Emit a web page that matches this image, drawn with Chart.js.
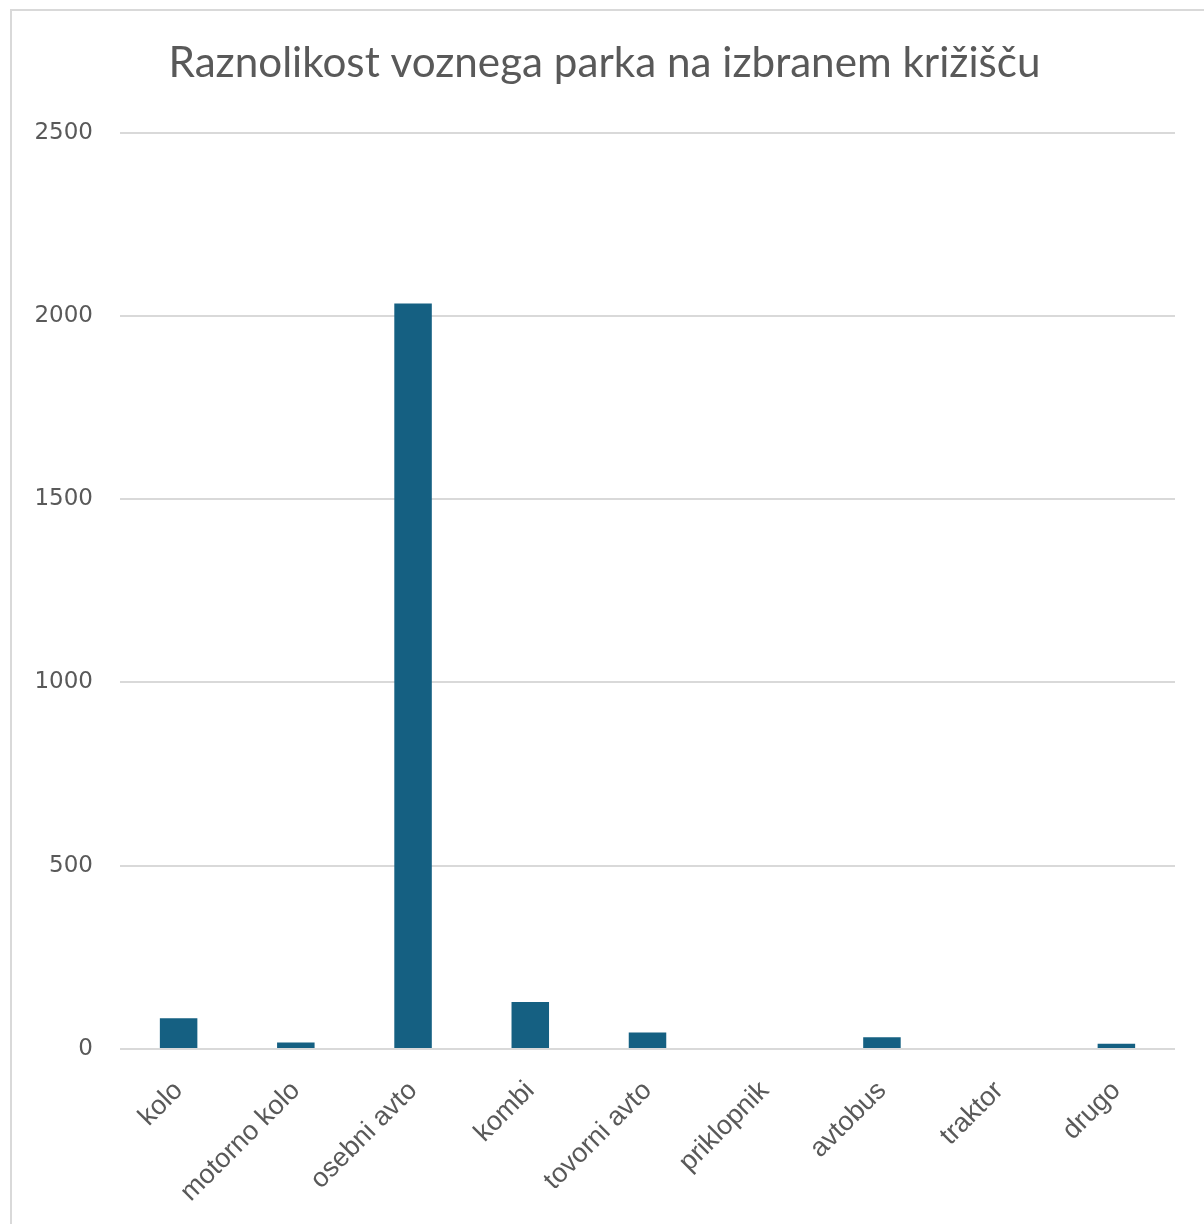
<!DOCTYPE html>
<html>
<head>
<meta charset="utf-8">
<script src="https://cdn.jsdelivr.net/npm/chart.js@4.4.1/dist/chart.umd.min.js"></script>
<style>
  html, body { margin: 0; padding: 0; background: #fff; }
  .frame {
    position: absolute; left: 10px; top: 9px;
    width: 1220px; height: 1240px;
    border: 2px solid #d9d9d9; box-sizing: border-box;
  }
  .wrap { position: absolute; left: 0; top: 0; width: 1204px; height: 1224px; }
</style>
</head>
<body>
<div class="frame"></div>
<div class="wrap">
  <canvas id="bar-chart" width="1204" height="1224"></canvas>
</div>
<script>
  // categories and counts
  const categories = ["kolo", "motorno kolo", "osebni avto", "kombi", "tovorni avto", "priklopnik", "avtobus", "traktor", "drugo"];
  const counts = [84, 18, 2034, 128, 45, 0, 32, 0, 14];
  const yTicks = [0, 500, 1000, 1500, 2000, 2500];

  const textColor = "#595959";
  const gridColor = "#d9d9d9";

  let config = {
    type: "bar",
    data: {
      labels: categories,
      datasets: [
        {
          label: "Število",
          backgroundColor: "#156082",
          borderWidth: 0,
          data: counts,
          barPercentage: 0.32,
          categoryPercentage: 1,
        },
      ],
    },
    options: {
      responsive: false,
      animation: false,
      layout: { padding: { left: 34, right: 29, top: 38, bottom: 0 } },
      plugins: {
        legend: { display: false },
        tooltip: { enabled: false },
        title: {
          display: true,
          text: "Raznolikost voznega parka na izbranem križišču",
          color: textColor,
          font: { family: "Lato", size: 42.2, weight: "normal" },
          padding: { top: 0, bottom: 44 },
        },
      },
      scales: {
        x: {
          grid: { display: false, drawTicks: false },
          border: { display: false },
          ticks: {
            color: textColor,
            font: { family: "Liberation Sans", size: 27 },
            minRotation: 45,
            maxRotation: 45,
            padding: 26,
          },
          // keep the plot area where the reference has it
          afterFit: (axis) => {
            axis.paddingLeft = 0;
            axis.paddingRight = 0;
            axis.height = 175;
          },
        },
        y: {
          min: 0,
          max: 2500,
          afterBuildTicks: (axis) => {
            axis.ticks = yTicks.map((v) => ({ value: v }));
          },
          grid: { color: gridColor, lineWidth: 2, drawTicks: false },
          border: { display: false },
          ticks: {
            color: textColor,
            font: { family: "DejaVu Sans", size: 23 },
            padding: 27,
            callback: (v) => String(v),
          },
          afterFit: (axis) => {
            axis.width = 86;
          },
        },
      },
    },
  };

  let ctx = document.getElementById("bar-chart").getContext("2d");
  window.myBar = new Chart(ctx, config);
</script>
</body>
</html>
